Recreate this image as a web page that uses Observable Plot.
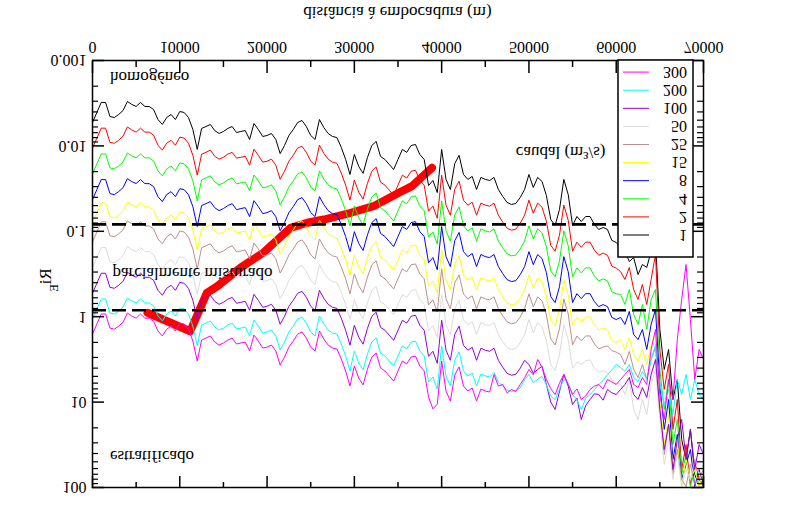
<!DOCTYPE html>
<html><head><meta charset="utf-8">
<script src="https://cdn.jsdelivr.net/npm/d3@7"></script>
<script src="https://cdn.jsdelivr.net/npm/@observablehq/plot@0.6"></script>
<style>
html,body{margin:0;padding:0;background:#fff;}
#wrap{position:relative;width:792px;height:525px;overflow:hidden;transform:scaleY(-1);background:#fff;}
#wrap svg{position:absolute;left:0;top:0;}
</style></head><body><div id="wrap"></div><script>
// distance from the mouth (m)
const distance = [0,500,1000,1500,2000,2500,3000,3500,4000,4500,
 5000,5500,6000,6500,7000,7500,8000,8500,9000,9500,
 10000,10500,11000,11500,12000,12500,13000,13500,14000,14500,
 15000,15500,16000,16500,17000,17500,18000,18500,19000,19500,
 20000,20500,21000,21500,22000,22500,23000,23500,24000,24500,
 25000,25500,26000,26500,27000,27500,28000,28500,29000,29500,
 30000,30500,31000,31500,32000,32500,33000,33500,34000,34500,
 35000,35500,36000,36500,37000,37500,38000,38500,39000,39500,
 40000,40500,41000,41500,42000,42500,43000,43500,44000,44500,
 45000,45500,46000,46500,47000,47500,48000,48500,49000,49500,
 50000,50500,51000,51500,52000,52500,53000,53500,54000,54500,
 55000,55500,56000,56500,57000,57500,58000,58500,59000,59500,
 60000,60500,61000,61500,62000,62500,63000,63500,64000,64500,
 65000,65500,66000,66500,67000,67500,68000,68500,69000,69500,
 70000];

// Ri_E for each river flow (m3/s)
const ri_1 = [0.00532,0.00406,0.00310,0.00310,0.00453,0.00465,0.00429,0.00385,0.00302,0.00327,
 0.00345,0.00310,0.00345,0.00346,0.00375,0.00491,0.00561,0.00465,0.00429,0.00491,
 0.00396,0.00406,0.00466,0.00643,0.0110,0.00625,0.00593,0.00561,0.00661,0.00716,
 0.00678,0.00625,0.00593,0.00697,0.00678,0.00661,0.00841,0.00547,0.00643,0.00776,
 0.00755,0.00716,0.00841,0.0123,0.00989,0.00755,0.00643,0.00532,0.00504,0.00593,
 0.00755,0.00841,0.00491,0.00609,0.00716,0.00776,0.00798,0.0104,0.0144,0.0216,
 0.0126,0.0174,0.0210,0.0137,0.00989,0.00887,0.0133,0.0144,0.0165,0.0189,
 0.0144,0.0110,0.0119,0.00989,0.00963,0.0126,0.0144,0.0291,0.0254,0.0352,
 0.0110,0.0247,0.0324,0.0161,0.0129,0.0216,0.0247,0.0228,0.0324,0.0234,
 0.0247,0.0254,0.0234,0.0324,0.0391,0.0460,0.0485,0.0472,0.0402,0.0324,
 0.0216,0.0307,0.0234,0.0261,0.0381,0.0728,0.0855,0.0556,0.0247,0.0371,
 0.0855,0.0671,0.0768,0.0671,0.0671,0.0832,0.0953,0.0902,0.0953,0.128,
 0.135,0.155,0.172,0.226,0.203,0.321,0.245,0.265,0.172,0.125,
 1.41,4.15,2.42,9.33,5.43,27.4,47.0,20.9,70.5,94.6,
 80.5];
const ri_2 = [0.0106,0.0081,0.0062,0.0062,0.0091,0.0093,0.0086,0.0077,0.0060,0.0065,
 0.0069,0.0062,0.0069,0.0069,0.0075,0.0098,0.0112,0.0093,0.0086,0.0098,
 0.0079,0.0081,0.0093,0.0129,0.022,0.0125,0.0119,0.0112,0.0132,0.0143,
 0.0136,0.0125,0.0119,0.0139,0.0136,0.0132,0.0168,0.0109,0.0129,0.0155,
 0.0151,0.0143,0.0168,0.0246,0.0198,0.0151,0.0129,0.0106,0.0101,0.0119,
 0.0151,0.0168,0.0098,0.0122,0.0143,0.0155,0.0160,0.0208,0.0288,0.0432,
 0.0252,0.0348,0.042,0.0274,0.0198,0.0177,0.0266,0.0288,0.033,0.0378,
 0.0288,0.022,0.0238,0.0198,0.0193,0.0252,0.0288,0.0582,0.0508,0.0704,
 0.022,0.0494,0.0648,0.0322,0.0258,0.0432,0.0494,0.0456,0.0648,0.0468,
 0.0494,0.0508,0.0468,0.0648,0.0782,0.092,0.097,0.0944,0.0804,0.0648,
 0.0432,0.0614,0.0468,0.0522,0.0762,0.146,0.171,0.111,0.0494,0.0742,
 0.171,0.134,0.154,0.134,0.134,0.166,0.191,0.180,0.191,0.256,
 0.27,0.296,0.367,0.265,0.480,0.629,0.419,0.719,0.367,0.187,
 2.42,7.11,3.63,20.9,9.33,61.5,31.4,94.6,47.0,80.5,
 97.3];
const ri_4 = [0.0213,0.0162,0.0124,0.0124,0.0181,0.0186,0.0172,0.0154,0.0121,0.0131,
 0.0138,0.0124,0.0138,0.0138,0.015,0.0196,0.0224,0.0186,0.0172,0.0196,
 0.0158,0.0162,0.0186,0.0257,0.044,0.025,0.0237,0.0224,0.0264,0.0286,
 0.0271,0.025,0.0237,0.0279,0.0271,0.0264,0.0336,0.0219,0.0257,0.031,
 0.0302,0.0286,0.0336,0.0492,0.0396,0.0302,0.0257,0.0213,0.0202,0.0237,
 0.0302,0.0336,0.0196,0.0244,0.0286,0.031,0.0319,0.0416,0.0576,0.0864,
 0.0504,0.0696,0.084,0.0548,0.0396,0.0355,0.0532,0.0576,0.066,0.0756,
 0.0576,0.044,0.0476,0.0396,0.0385,0.0504,0.0576,0.116,0.102,0.141,
 0.044,0.0988,0.130,0.0644,0.0516,0.0864,0.0988,0.0912,0.130,0.0936,
 0.0988,0.102,0.0936,0.130,0.156,0.184,0.194,0.189,0.161,0.130,
 0.0864,0.123,0.0936,0.104,0.152,0.291,0.342,0.222,0.0988,0.148,
 0.342,0.268,0.307,0.268,0.268,0.333,0.381,0.361,0.381,0.512,
 0.54,0.548,0.719,0.480,0.942,1.23,0.719,1.41,0.629,0.480,
 4.15,12.2,5.43,31.4,16.0,70.5,41.1,97.3,61.5,92.2,
 80.5];
const ri_8 = [0.0426,0.0325,0.0248,0.0248,0.0362,0.0372,0.0343,0.0308,0.0242,0.0262,
 0.0276,0.0248,0.0276,0.0277,0.030,0.0393,0.0449,0.0372,0.0343,0.0393,
 0.0317,0.0325,0.0373,0.0514,0.088,0.050,0.0474,0.0449,0.0529,0.0573,
 0.0542,0.050,0.0474,0.0558,0.0542,0.0529,0.0673,0.0438,0.0514,0.0621,
 0.0604,0.0573,0.0673,0.0984,0.0791,0.0604,0.0514,0.0426,0.0403,0.0474,
 0.0604,0.0673,0.0393,0.0487,0.0573,0.0621,0.0638,0.0832,0.115,0.173,
 0.101,0.139,0.168,0.110,0.0791,0.071,0.106,0.115,0.132,0.151,
 0.115,0.088,0.095,0.0791,0.077,0.101,0.115,0.233,0.203,0.282,
 0.088,0.198,0.259,0.129,0.103,0.173,0.198,0.182,0.259,0.187,
 0.198,0.203,0.187,0.259,0.313,0.368,0.388,0.378,0.322,0.259,
 0.173,0.246,0.187,0.209,0.305,0.582,0.684,0.445,0.198,0.297,
 0.684,0.537,0.614,0.537,0.537,0.666,0.762,0.722,0.762,1.02,
 1.08,1.02,1.23,0.869,1.62,1.85,1.41,2.42,1.23,0.824,
 6.22,20.9,9.33,47.0,23.9,80.5,53.8,35.9,97.3,61.5,
 94.6];
const ri_15 = [0.0798,0.0609,0.0465,0.0465,0.068,0.0698,0.0644,0.0578,0.0453,0.0491,
 0.0518,0.0465,0.0518,0.0519,0.0563,0.0737,0.0842,0.0698,0.0644,0.0737,
 0.0594,0.0609,0.0699,0.0965,0.165,0.0938,0.089,0.0842,0.0992,0.107,
 0.102,0.0938,0.089,0.105,0.102,0.0992,0.126,0.0821,0.0965,0.116,
 0.113,0.107,0.126,0.185,0.148,0.113,0.0965,0.0798,0.0756,0.089,
 0.113,0.126,0.0737,0.0914,0.107,0.116,0.120,0.156,0.216,0.324,
 0.189,0.261,0.315,0.206,0.148,0.133,0.200,0.216,0.248,0.284,
 0.216,0.165,0.179,0.148,0.144,0.189,0.216,0.437,0.381,0.528,
 0.165,0.371,0.486,0.242,0.194,0.324,0.371,0.342,0.486,0.351,
 0.371,0.381,0.351,0.486,0.587,0.69,0.728,0.708,0.603,0.486,
 0.324,0.461,0.351,0.392,0.572,1.09,1.28,0.834,0.371,0.557,
 1.28,1.01,1.15,1.01,1.01,1.25,1.43,1.35,1.43,1.9,
 2.0,1.85,2.42,1.75,2.77,3.35,2.42,3.63,2.12,1.62,
 9.33,31.4,14.0,61.5,27.4,97.3,47.0,80.5,61.5,97.3,
 70.5];
const ri_25 = [0.133,0.102,0.0775,0.0775,0.113,0.116,0.107,0.0963,0.0755,0.0818,
 0.0863,0.0775,0.0863,0.0865,0.0938,0.123,0.140,0.116,0.107,0.123,
 0.099,0.102,0.117,0.161,0.275,0.156,0.148,0.140,0.165,0.179,
 0.170,0.156,0.148,0.174,0.170,0.165,0.210,0.137,0.161,0.194,
 0.189,0.179,0.210,0.308,0.247,0.189,0.161,0.133,0.126,0.148,
 0.189,0.210,0.123,0.152,0.179,0.194,0.200,0.26,0.36,0.54,
 0.315,0.435,0.525,0.343,0.247,0.222,0.333,0.36,0.413,0.473,
 0.36,0.275,0.298,0.247,0.241,0.315,0.36,0.728,0.635,0.88,
 0.275,0.618,0.81,0.403,0.323,0.54,0.618,0.57,0.81,0.585,
 0.618,0.635,0.585,0.81,0.978,1.15,1.21,1.18,1.01,0.81,
 0.54,0.768,0.585,0.653,0.953,1.82,2.14,1.39,0.618,0.928,
 2.14,1.68,1.92,1.68,1.68,2.08,2.38,2.26,2.2,2.5,
 2.6,2.77,3.63,2.55,4.15,5.15,3.63,5.43,3.17,2.29,
 12.2,41.1,18.3,70.5,35.9,80.5,97.3,53.8,92.2,76.4,
 61.5];
const ri_50 = [0.266,0.203,0.155,0.155,0.227,0.233,0.215,0.193,0.151,0.164,
 0.173,0.155,0.173,0.173,0.188,0.246,0.281,0.233,0.215,0.246,
 0.198,0.203,0.233,0.322,0.55,0.313,0.297,0.281,0.331,0.358,
 0.339,0.313,0.297,0.349,0.339,0.331,0.421,0.274,0.322,0.388,
 0.378,0.358,0.421,0.615,0.495,0.378,0.322,0.266,0.252,0.297,
 0.378,0.421,0.246,0.305,0.358,0.388,0.399,0.52,0.72,1.08,
 0.63,0.87,1.05,0.685,0.495,0.444,0.665,0.72,0.825,0.945,
 0.72,0.55,0.595,0.495,0.482,0.63,0.72,1.46,1.27,1.76,
 0.55,1.24,1.62,0.805,0.645,1.08,1.24,1.14,1.62,1.17,
 1.24,1.27,1.17,1.62,1.96,2.3,2.43,2.36,2.01,1.62,
 1.08,1.54,1.17,1.31,1.91,3.64,4.28,2.78,1.24,1.86,
 4.0,3.4,3.6,3.3,3.2,4.0,4.5,4.3,4.5,5.5,
 6.0,6.22,8.15,5.43,12.2,16.0,9.33,14.0,6.22,4.15,
 16.0,53.8,27.4,80.5,41.1,97.3,61.5,80.5,47.0,70.5,
 53.8];
const ri_100 = [0.532,0.406,0.31,0.31,0.453,0.465,0.429,0.385,0.302,0.327,
 0.345,0.31,0.345,0.346,0.375,0.491,0.561,0.465,0.429,0.491,
 0.396,0.406,0.466,0.643,1.10,0.625,0.593,0.561,0.661,0.716,
 0.678,0.625,0.593,0.697,0.678,0.661,0.841,0.547,0.643,0.776,
 0.755,0.716,0.841,1.23,0.989,0.755,0.643,0.532,0.504,0.593,
 0.755,0.841,0.491,0.609,0.716,0.776,0.798,1.04,1.44,2.16,
 1.26,1.74,2.10,1.37,0.989,0.887,1.33,1.44,1.65,1.89,
 1.44,1.10,1.19,0.989,0.963,1.26,1.44,2.91,2.54,3.52,
 1.10,2.47,3.24,1.61,1.29,2.16,2.47,2.28,3.24,2.34,
 2.47,2.54,2.34,3.24,3.91,4.6,4.85,4.72,4.02,3.24,
 3.63,4.6,4.15,3.8,6.22,10.0,12.2,7.5,4.75,6.5,
 10.7,9.0,16.0,11.0,9.33,8.0,8.15,9.5,7.11,7.8,
 8.15,7.11,6.22,5.15,8.15,9.33,6.75,8.83,4.75,3.17,
 12.2,35.9,18.3,61.5,27.4,16.0,47.0,20.9,61.5,31.4,
 41.1];
const ri_200 = [1.06,0.812,0.62,0.62,0.906,0.93,0.858,0.77,0.604,0.654,
 0.69,0.62,0.69,0.692,0.75,0.982,1.12,0.93,0.858,0.982,
 0.792,0.812,0.932,1.29,2.2,1.25,1.19,1.12,1.32,1.43,
 1.36,1.25,1.19,1.39,1.36,1.32,1.68,1.09,1.29,1.55,
 1.51,1.43,1.68,2.46,1.98,1.51,1.29,1.06,1.01,1.19,
 1.51,1.68,0.982,1.22,1.43,1.55,1.6,2.08,2.88,4.32,
 2.52,3.48,4.2,2.74,1.98,1.77,2.66,2.88,3.3,3.78,
 2.88,2.2,2.38,1.98,1.93,2.52,2.88,5.82,5.08,7.04,
 2.2,4.94,6.48,3.22,2.58,4.32,4.94,4.56,6.48,4.68,
 4.94,5.08,4.5,5.8,6.5,7.2,7.5,7.4,6.8,5.5,
 4.75,5.9,5.43,5.0,6.22,8.5,9.33,7.0,5.43,6.0,
 8.15,9.5,12.2,9.0,8.15,7.2,6.22,5.6,4.75,4.2,
 3.63,3.94,4.38,3.63,5.15,5.74,4.38,5.43,3.17,2.12,
 6.22,10.7,7.11,14.0,5.43,8.15,4.75,9.33,5.43,8.15,
 9.33];
const ri_300 = [1.6,1.22,0.93,0.93,1.36,1.4,1.29,1.16,0.906,0.981,
 1.04,0.93,1.04,1.04,1.13,1.47,1.68,1.4,1.29,1.47,
 1.19,1.22,1.4,1.93,3.3,1.88,1.78,1.68,1.98,2.15,
 2.03,1.88,1.78,2.09,2.03,1.98,2.52,1.64,1.93,2.33,
 2.27,2.15,2.52,3.69,2.97,2.27,1.93,1.6,1.51,1.78,
 2.27,2.52,1.47,1.83,2.15,2.33,2.39,3.12,4.32,6.48,
 3.78,5.22,6.3,4.11,2.97,2.66,3.99,4.32,4.95,5.67,
 4.32,3.3,3.57,2.97,2.89,3.78,4.32,8.73,12,10.6,
 3.3,7.41,9.72,4.83,3.87,6.48,7.41,6.84,9.72,7.02,
 7.41,7.62,4.75,6.5,6.22,7.8,7.11,7.5,6.22,5.2,
 4.15,4.8,3.17,3.9,5.43,7.0,8.15,6.0,4.75,6.22,
 8.15,7.0,9.33,8.5,7.11,6.5,6.22,7.0,5.43,5.8,
 6.22,5.43,4.75,4.15,6.22,6.75,5.15,6.22,2.42,1.41,
 8.15,16.0,5.43,9.33,1.85,0.629,0.245,1.08,5.43,2.42,
 3.17];

const flows = ["1","2","4","8","15","25","50","100","200","300"];
const flowColors = ["#000000","#ff0000","#00ff00","#0000ff","#ffff00","#bc8f8f","#dcdcdc","#9400d3","#00ffff","#ff00ff"];
const flowValues = [ri_1, ri_2, ri_4, ri_8, ri_15, ri_25, ri_50, ri_100, ri_200, ri_300];

// thick red transition line
const transitionX = [6300,11200,13100,14300,17000,19600,21200,22700,24600,26500,29600,32200,35100,36600,38100,38900];
const transitionRi = [0.90,1.48,0.525,0.44,0.265,0.177,0.125,0.091,0.0795,0.0728,0.0607,0.0508,0.0354,0.0296,0.0214,0.0180];

// regime thresholds (dashed)
const thresholds = [0.083, 0.84];

// annotations
const noteText = ["homogéneo","parcialmente misturado","estratificado","caudal (m³/s)"];
const noteX = [2000, 2300, 2000, 48500];
const noteRi = [0.00158, 0.312, 43.4, 0.0119];

// axis ticks
const xTicks = [0,10000,20000,30000,40000,50000,60000,70000];
const xMinor = [5000,15000,25000,35000,45000,55000,65000];
const yTicks = [0.001,0.01,0.1,1,10,100];
const yTickLabels = ["0.001","0.01","0.1","1","10","100"];
const yMinor = [];
for (let e = -3; e < 2; e++) for (let m = 2; m <= 9; m++) yMinor.push(m * Math.pow(10, e));

const FONT = "'Liberation Serif','Times New Roman',serif";

const rows = [];
flows.forEach((q, s) => distance.forEach((x, i) => rows.push({x, ri: flowValues[s][i], q})));
const trans = transitionX.map((x, i) => ({x, ri: transitionRi[i]}));
const notes = noteText.map((t, i) => ({t, x: noteX[i], ri: noteRi[i]}));

const W = 792, H = 525, mL = 92, mR = 89, mT = 37, mB = 61;
const fw = W - mL - mR, fh = H - mT - mB;
const major = 12, minor = 6;

const chart = Plot.plot({
  width: W, height: H,
  marginLeft: mL, marginRight: mR, marginTop: mT, marginBottom: mB,
  style: {fontFamily: FONT, fontSize: "16px", background: "white", color: "black", overflow: "visible"},
  x: {domain: [0, 70000], label: null},
  y: {type: "log", domain: [0.001, 100], label: null},
  color: {domain: flows, range: flowColors},
  marks: [
    Plot.line(trans, {x: "x", y: "ri", stroke: "#ff0000", strokeWidth: 8, strokeLinejoin: "round"}),
    Plot.line(rows, {x: "x", y: "ri", z: "q", stroke: "q", strokeWidth: 1, clip: true}),
    Plot.ruleY(thresholds, {stroke: "black", strokeWidth: 2.6, strokeDasharray: "14,6"}),
    Plot.text(notes, {x: "x", y: "ri", text: "t", textAnchor: "start", fontSize: 17, fill: "black"}),
    Plot.frame({stroke: "black", strokeWidth: 1.5}),
    Plot.ruleX(xTicks, {insetTop: fh - major, strokeWidth: 1.5}),
    Plot.ruleX(xTicks, {insetBottom: fh - major, strokeWidth: 1.5}),
    Plot.ruleX(xMinor, {insetTop: fh - minor, strokeWidth: 1.5}),
    Plot.ruleX(xMinor, {insetBottom: fh - minor, strokeWidth: 1.5}),
    Plot.ruleY(yTicks, {insetRight: fw - major, strokeWidth: 1.5}),
    Plot.ruleY(yTicks, {insetLeft: fw - major, strokeWidth: 1.5}),
    Plot.ruleY(yMinor, {insetRight: fw - minor, strokeWidth: 1.2}),
    Plot.ruleY(yMinor, {insetLeft: fw - minor, strokeWidth: 1.2}),
    Plot.axisX({ticks: xTicks, tickSize: 0, tickPadding: 7, tickFormat: d => String(d), fontSize: 16, label: null}),
    Plot.axisY({ticks: yTicks, tickSize: 0, tickPadding: 6, tickFormat: d => yTickLabels[yTicks.indexOf(d)] ?? String(d), fontSize: 16, label: null})
  ]
});
const wrap = document.getElementById("wrap");
wrap.appendChild(chart);

// overlay: legend and axis titles
const ov = d3.select(wrap).append("svg")
  .attr("width", W).attr("height", H)
  .style("font-family", FONT).style("pointer-events", "none");

ov.append("rect").attr("x", 618).attr("y", 268).attr("width", 75).attr("height", 197)
  .attr("fill", "white").attr("stroke", "black").attr("stroke-width", 1.5);
flows.forEach((q, i) => {
  const y = 290 + i * 18.1;
  ov.append("line").attr("x1", 623).attr("x2", 649).attr("y1", y).attr("y2", y)
    .attr("stroke", flowColors[i]).attr("stroke-width", 1);
  ov.append("text").attr("x", 687).attr("y", y).attr("dy", "0.33em")
    .attr("text-anchor", "end").attr("font-size", 16).attr("fill", "black").text(q);
});

const yl = ov.append("text").attr("transform", "translate(45,245) rotate(-90)")
  .attr("text-anchor", "middle").attr("dy", "0.35em").attr("font-size", 17).attr("fill", "black");
yl.append("tspan").text("Ri");
yl.append("tspan").attr("baseline-shift", "sub").attr("font-size", 12).text("E");

ov.append("text").attr("x", (mL + W - mR) / 2).attr("y", 518).attr("text-anchor", "middle")
  .attr("font-size", 17).attr("fill", "black").text("distância à embocadura (m)");
</script></body></html>
